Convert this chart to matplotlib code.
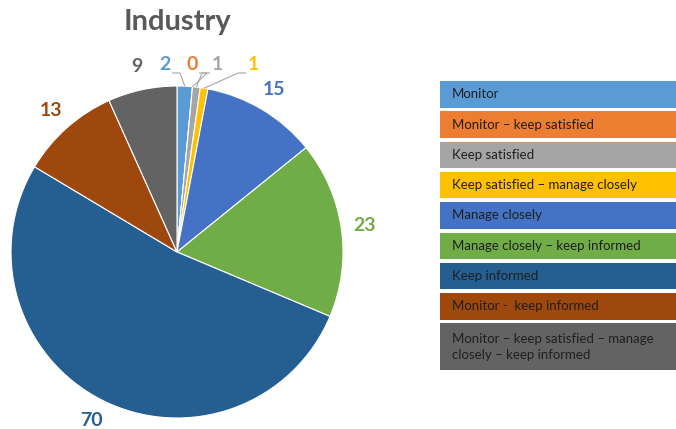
import numpy as np
import matplotlib
matplotlib.use("Agg")
from matplotlib import pyplot as plt
from matplotlib.patches import Rectangle

plt.rcParams['font.family'] = ['Lato', 'DejaVu Sans']

# Data
categories = ["Monitor",
              "Monitor \u2013 keep satisfied",
              "Keep satisfied",
              "Keep satisfied \u2013 manage closely",
              "Manage closely",
              "Manage closely \u2013 keep informed",
              "Keep informed",
              "Monitor -  keep informed",
              "Monitor \u2013 keep satisfied \u2013 manage\nclosely \u2013 keep informed"]
values = [2, 0, 1, 1, 15, 23, 70, 13, 9]
colors = ['#5B9BD5', '#ED7D31', '#A5A5A5', '#FFC000', '#4472C4',
          '#70AD47', '#255E91', '#9E480E', '#636363']

# Figure in pixel coordinates (y up)
W, H = 676, 429
fig = plt.figure(figsize=(W / 100, H / 100), dpi=100)
ax = fig.add_axes([0, 0, 1, 1])

cx, cy, R = 177, H - 252, 166
wedges, _ = ax.pie(values, colors=colors, startangle=90, counterclock=False,
                   center=(cx, cy), radius=R, frame=True,
                   wedgeprops=dict(edgecolor='white', linewidth=0.8))
ax.set_xlim(0, W)
ax.set_ylim(0, H)
ax.axis('off')

ax.text(cx, H - 22, "Industry", ha='center', va='center', fontsize=21,
        fontweight='bold', color='#595959')

# Data labels
small_x = {0: 165, 1: 192, 2: 217, 3: 253}  # leader-line labels along the top
label_y = H - 65
line_y = H - 73
for i, (w, v) in enumerate(zip(wedges, values)):
    mid = np.deg2rad((w.theta1 + w.theta2) / 2)
    if i in small_x:
        lx = small_x[i]
        ex, ey = cx + R * np.cos(mid), cy + R * np.sin(mid)
        side = 1 if ex > lx else -1
        x0 = lx + side * 7
        ax.plot([x0, x0 + side * 8, ex], [line_y, line_y, ey],
                color='#A6A6A6', lw=0.8, solid_capstyle='butt')
        ax.text(lx, label_y, str(v), ha='center', va='center', fontsize=14,
                fontweight='bold', color=colors[i])
    else:
        lx, ly = cx + 1.14 * R * np.cos(mid), cy + 1.14 * R * np.sin(mid)
        ax.text(lx, ly, str(v), ha='center', va='center', fontsize=14,
                fontweight='bold', color=colors[i])

# Legend boxes
top, pitch, box_h = H - 81, 30.3, 26.5
for i, (name, c) in enumerate(zip(categories, colors)):
    h = 47 if '\n' in name else box_h
    y1 = top - i * pitch
    ax.add_patch(Rectangle((440, y1 - h), W - 440, h, facecolor=c,
                           edgecolor='none'))
    ax.text(452, y1 - h / 2, name, ha='left', va='center', fontsize=9.5,
            color='#1f1f1f', linespacing=1.35)

fig.savefig("out.png", dpi=100)
